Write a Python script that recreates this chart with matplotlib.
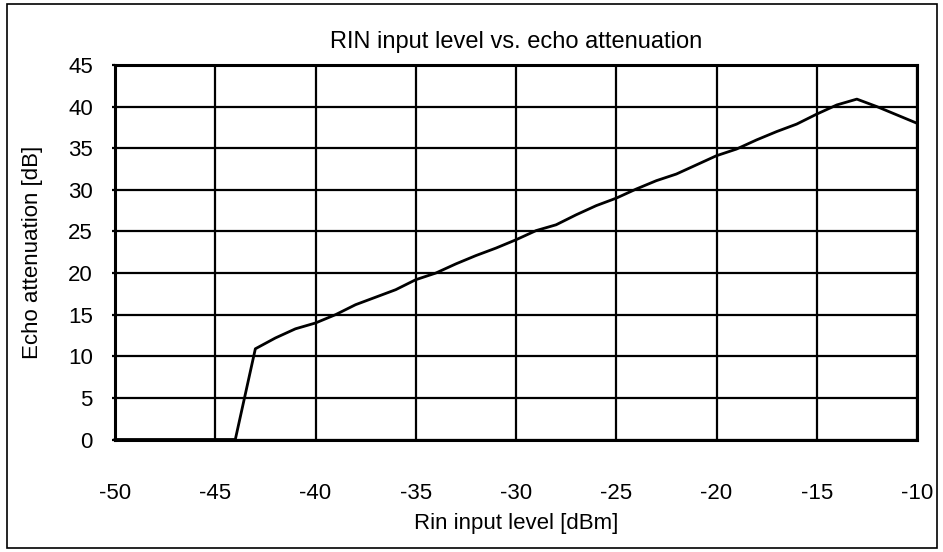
import matplotlib.pyplot as plt
from matplotlib.patches import Rectangle

# Rin input level [dBm] and echo attenuation [dB]
rin_level = [-50, -49, -48, -47, -46, -45, -44, -43, -42, -41, -40,
             -39, -38, -37, -36, -35, -34, -33, -32, -31, -30,
             -29, -28, -27, -26, -25, -24, -23, -22, -21, -20,
             -19, -18, -17, -16, -15, -14, -13, -12, -11, -10]
echo_att = [0, 0, 0, 0, 0, 0, 0, 10.9, 12.2, 13.3, 14.0,
            15.0, 16.2, 17.1, 18.0, 19.2, 20.0, 21.1, 22.1, 23.0, 24.0,
            25.1, 25.8, 27.0, 28.1, 29.0, 30.1, 31.1, 31.9, 33.0, 34.1,
            34.9, 36.0, 37.0, 37.9, 39.1, 40.2, 40.9, 40.0, 39.0, 38.0]
x_ticks = [-50, -45, -40, -35, -30, -25, -20, -15, -10]
y_ticks = [0, 5, 10, 15, 20, 25, 30, 35, 40, 45]

plt.rcParams['font.family'] = ['Liberation Sans', 'DejaVu Sans']
plt.rcParams['axes.unicode_minus'] = False

W, H = 943, 552
fig = plt.figure(figsize=(W / 100, H / 100), dpi=100)
ax = fig.add_axes([115 / W, 1 - 439.5 / H, (917 - 115) / W, (439.5 - 65) / H])

# outer frame around the whole chart
fig.patches.append(Rectangle((7 / W, 4 / H), (937 - 7) / W, (548 - 4) / H,
                             transform=fig.transFigure, fill=False,
                             edgecolor='black', linewidth=1.2))

ax.plot(rin_level, echo_att, color='black', linewidth=2, zorder=3, clip_on=False)

ax.set_xlim(-50, -10)
ax.set_ylim(0, 45)
ax.set_xticks(x_ticks)
ax.set_yticks(y_ticks)
ax.grid(True, color='black', linewidth=1.6)
for s in ax.spines.values():
    s.set_linewidth(2.2)
ax.tick_params(axis='x', length=0, pad=31, labelsize=16)
ax.tick_params(axis='y', length=2, width=1.6, pad=14, labelsize=16)

ax.set_title('RIN input level vs. echo attenuation', fontsize=17, pad=12)
ax.set_xlabel('Rin input level [dBm]', fontsize=16, labelpad=7)
ax.set_ylabel('Echo attenuation [dB]', fontsize=16, labelpad=18)

fig.savefig('out.png', dpi=100)
